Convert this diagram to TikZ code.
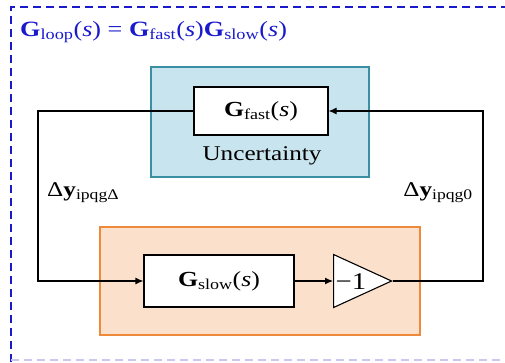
\documentclass[tikz,border=0pt]{standalone}
\usepackage{amsmath}
\usepackage{fontspec}
\setmainfont[FakeStretch=1.2]{Liberation Serif}
\usetikzlibrary{arrows.meta,shapes.geometric}
\definecolor{framblue}{HTML}{1A1ACC}
\definecolor{framlight}{HTML}{C8C8F0}
\definecolor{unfill}{HTML}{C8E4EE}
\definecolor{undraw}{HTML}{3A8FA3}
\definecolor{orfill}{HTML}{FBE1CC}
\definecolor{ordraw}{HTML}{EE8A3C}
\newcommand{\Gsub}[1]{\textbf{G}$_{\text{#1}}$(\textit{s})}
\tikzset{
  blockbox/.style={draw=black, fill=white, line width=1.1pt, minimum width=134pt, minimum height=48pt, inner sep=0pt, font=\fontsize{21.5}{24}\selectfont},
  wire/.style={line width=1.1pt, draw=black},
  arr/.style={wire, -{Latex[length=8pt,width=7pt]}},
  frame/.style={line width=2.4pt, dash pattern=on 8pt off 5pt},
}
\begin{document}
\begin{tikzpicture}[x=1pt,y=-1pt]
\useasboundingbox (0,0) rectangle (505,362);
% outer dashed frame
\draw[frame, draw=framblue] (11,362) -- (11,7) -- (505,7);
\draw[frame, draw=framlight, line width=1.6pt] (11,360) -- (505,360);
% title
\node[anchor=base west, text=framblue, font=\fontsize{21.8}{26}\selectfont, inner sep=0pt] (title) at (20,36)
  {\Gsub{loop} = \Gsub{fast}\Gsub{slow}};
% uncertainty region
\node[draw=undraw, fill=unfill, line width=1.1pt, minimum width=218pt, minimum height=110pt, inner sep=0pt] (unc) at (260,122) {};
\node[anchor=base, font=\fontsize{21}{24}\selectfont, inner sep=0pt] (unctxt) at (262,160) {Uncertainty};
% slow region
\node[draw=ordraw, fill=orfill, line width=1.1pt, minimum width=320pt, minimum height=108pt, inner sep=0pt] (slowreg) at (260,281) {};
% blocks
\node[blockbox] (gfast) at (261,111) {\Gsub{fast}};
\node[blockbox, minimum width=150pt, minimum height=52pt] (gslow) at (219,281) {\Gsub{slow}};
\node[draw=black, fill=white, line width=1.1pt, isosceles triangle, isosceles triangle stretches, minimum height=58pt, minimum width=53pt, inner sep=0pt, anchor=west] (gain) at (333,281) {};
\node[anchor=base, font=\fontsize{24}{26}\selectfont, inner sep=0pt] (gaintxt) at (351,289) {−1};
% wires
\coordinate (lc1) at (38,111);
\coordinate (lc2) at (38,281);
\coordinate (rc1) at (483,281);
\coordinate (rc2) at (483,111);
\draw[arr] (gfast.west) -- (lc1) -- (lc2) -- (gslow.west);
\draw[arr] (gslow.east) -- (gain.west);
\draw[arr] (gain.apex) -- (rc1) -- (rc2) -- (gfast.east);
% labels
\node[anchor=base west, font=\fontsize{21}{24}\selectfont, inner sep=0pt] (lblL) at (47,196) {Δ\textbf{y}$_{\text{ipqgΔ}}$};
\node[anchor=base east, font=\fontsize{21}{24}\selectfont, inner sep=0pt] (lblR) at (473,196) {Δ\textbf{y}$_{\text{ipqg0}}$};
\end{tikzpicture}
\end{document}
